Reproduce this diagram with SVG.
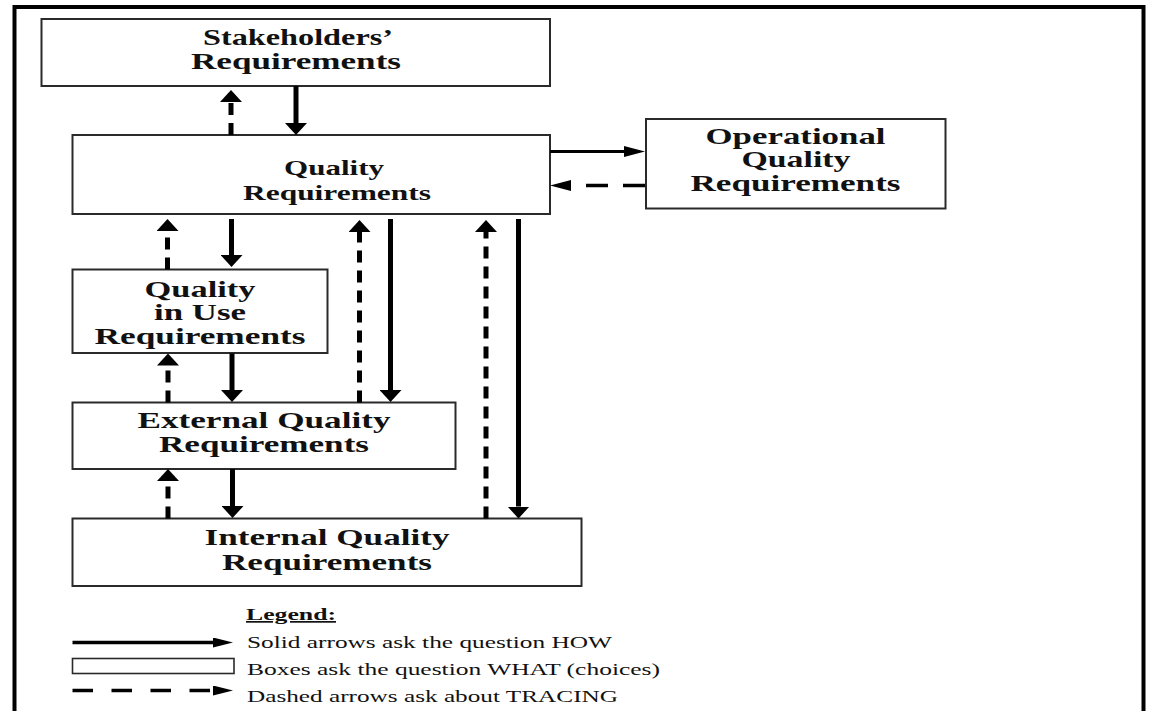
<svg xmlns="http://www.w3.org/2000/svg" width="1149" height="711" viewBox="0 0 1149 711">
  <style>
    .box { fill: #ffffff; stroke: #2a2a2a; stroke-width: 2; }
    .lbl { font-family: "Liberation Serif", "Times New Roman", serif; font-weight: bold; font-size: 23px; fill: #111; text-anchor: middle; }
    .sm { font-size: 22px; }
    .leg { font-family: "Liberation Serif", "Times New Roman", serif; font-size: 17px; fill: #111; }
    .vs { fill: none; stroke: #000; stroke-width: 5; }
    .vd { fill: none; stroke: #000; stroke-width: 5; stroke-dasharray: 12 8; }
    .hs { fill: none; stroke: #000; stroke-width: 3; }
    .hd { fill: none; stroke: #000; stroke-width: 3.5; stroke-dasharray: 22 15; }
  </style>
  <defs>
    <!-- arrowheads start at the line end and point forward -->
    <marker id="headV" viewBox="0 0 12 22" refX="0" refY="11" markerWidth="12" markerHeight="22" markerUnits="userSpaceOnUse" orient="auto">
      <path d="M0,0 L12,11 L0,22 z" fill="#000"/>
    </marker>
    <marker id="headH" viewBox="0 0 21 11" refX="0" refY="5.5" markerWidth="21" markerHeight="11" markerUnits="userSpaceOnUse" orient="auto">
      <path d="M0,0 L21,5.5 L0,11 z" fill="#000"/>
    </marker>
    <marker id="headL" viewBox="0 0 20 10" refX="0" refY="5" markerWidth="20" markerHeight="10" markerUnits="userSpaceOnUse" orient="auto">
      <path d="M0,0 L20,5 L0,10 z" fill="#000"/>
    </marker>
  </defs>

  <rect width="1149" height="711" fill="#ffffff"/>
  <!-- page frame -->
  <path d="M14.5,711 V7 H1143.5 V711" fill="none" stroke="#000" stroke-width="4"/>

  <g id="stakeholders">
    <rect class="box" x="41.5" y="19" width="508.5" height="67"/>
    <text class="lbl" x="298" y="44.5" textLength="190" lengthAdjust="spacingAndGlyphs">Stakeholders’</text>
    <text class="lbl" x="296" y="69" textLength="210" lengthAdjust="spacingAndGlyphs">Requirements</text>
  </g>

  <g id="quality">
    <rect class="box" x="72.5" y="135" width="477.5" height="79"/>
    <text class="lbl sm" x="334" y="174.5" textLength="100" lengthAdjust="spacingAndGlyphs">Quality</text>
    <text class="lbl sm" x="337" y="200" textLength="188" lengthAdjust="spacingAndGlyphs">Requirements</text>
  </g>

  <g id="operational">
    <rect class="box" x="646" y="119" width="299.5" height="89.5"/>
    <text class="lbl" x="795.5" y="143.5" textLength="180" lengthAdjust="spacingAndGlyphs">Operational</text>
    <text class="lbl" x="796" y="167" textLength="109" lengthAdjust="spacingAndGlyphs">Quality</text>
    <text class="lbl" x="795.5" y="190.5" textLength="210" lengthAdjust="spacingAndGlyphs">Requirements</text>
  </g>

  <g id="quality-in-use">
    <rect class="box" x="72.5" y="269.5" width="255" height="83.5"/>
    <text class="lbl" x="200" y="296.5" textLength="111" lengthAdjust="spacingAndGlyphs">Quality</text>
    <text class="lbl" x="200" y="320" textLength="92" lengthAdjust="spacingAndGlyphs">in Use</text>
    <text class="lbl" x="200" y="344" textLength="211" lengthAdjust="spacingAndGlyphs">Requirements</text>
  </g>

  <g id="external-quality">
    <rect class="box" x="72.5" y="402.5" width="383" height="66.5"/>
    <text class="lbl" x="264" y="427.5" textLength="253" lengthAdjust="spacingAndGlyphs">External Quality</text>
    <text class="lbl" x="264" y="451.5" textLength="210" lengthAdjust="spacingAndGlyphs">Requirements</text>
  </g>

  <g id="internal-quality">
    <rect class="box" x="72.5" y="518.5" width="509" height="67.5"/>
    <text class="lbl" x="327" y="545" textLength="245" lengthAdjust="spacingAndGlyphs">Internal Quality</text>
    <text class="lbl" x="327" y="570" textLength="210" lengthAdjust="spacingAndGlyphs">Requirements</text>
  </g>

  <g id="connectors">
    <!-- stakeholders / quality -->
    <path class="vd" d="M231,135 V102" marker-end="url(#headV)"/>
    <path class="vs" d="M296,86 V123" marker-end="url(#headV)"/>
    <!-- quality / operational -->
    <path class="hs" d="M550,151.5 H624" marker-end="url(#headH)"/>
    <path class="hd" d="M645,185.5 H571" marker-end="url(#headH)"/>
    <!-- quality / quality in use -->
    <path class="vd" d="M167.5,269.5 V231" marker-end="url(#headV)"/>
    <path class="vs" d="M231.5,219 V255" marker-end="url(#headV)"/>
    <!-- quality / external -->
    <path class="vd" d="M359.5,402.5 V232" marker-end="url(#headV)"/>
    <path class="vs" d="M390.5,219 V390" marker-end="url(#headV)"/>
    <!-- quality / internal -->
    <path class="vd" d="M486,518.5 V232" marker-end="url(#headV)"/>
    <path class="vs" d="M518.5,219 V506.5" marker-end="url(#headV)"/>
    <!-- quality in use / external -->
    <path class="vd" d="M168,402.5 V365.5" marker-end="url(#headV)"/>
    <path class="vs" d="M232,353.5 V390" marker-end="url(#headV)"/>
    <!-- external / internal -->
    <path class="vd" d="M168,518.5 V481" marker-end="url(#headV)"/>
    <path class="vs" d="M232.5,469 V506" marker-end="url(#headV)"/>
  </g>

  <g id="legend">
    <text x="246" y="620" font-family="Liberation Serif, Times New Roman, serif" font-weight="bold" font-size="17" fill="#111" text-decoration="underline" textLength="90" lengthAdjust="spacingAndGlyphs">Legend:</text>
    <path d="M72.5,642.5 H213" fill="none" stroke="#000" stroke-width="3.3" marker-end="url(#headL)"/>
    <rect x="72.5" y="658.5" width="161.5" height="15" fill="#fff" stroke="#2a2a2a" stroke-width="1.6"/>
    <path d="M72.5,690.5 H213" fill="none" stroke="#000" stroke-width="3.5" stroke-dasharray="20.5 18.5" marker-end="url(#headL)"/>
    <text class="leg" x="247" y="648" textLength="365" lengthAdjust="spacingAndGlyphs">Solid arrows ask the question HOW</text>
    <text class="leg" x="247" y="675" textLength="413" lengthAdjust="spacingAndGlyphs">Boxes ask the question WHAT (choices)</text>
    <text class="leg" x="247" y="702" textLength="371" lengthAdjust="spacingAndGlyphs">Dashed arrows ask about TRACING</text>
  </g>
</svg>
